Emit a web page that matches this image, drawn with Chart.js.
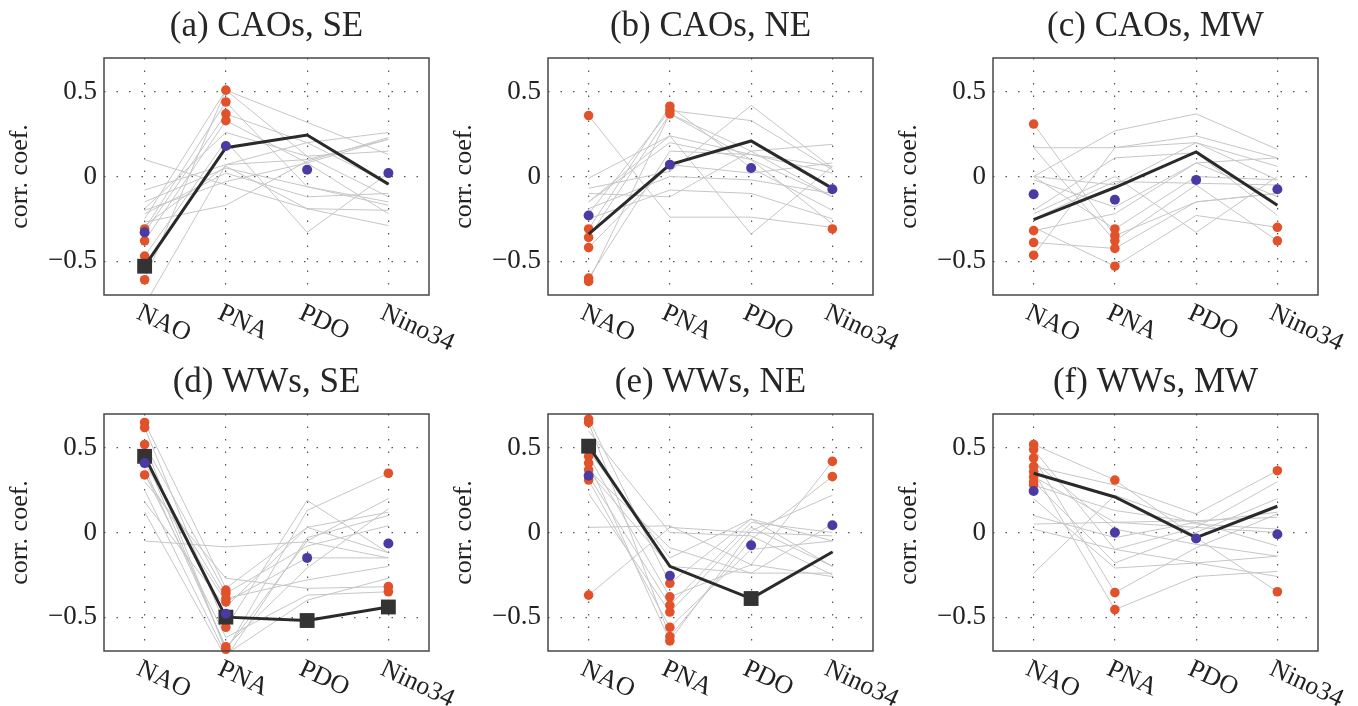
<!DOCTYPE html>
<html lang="en">
<head>
    <meta charset="UTF-8">
    <title>Correlation with climate indices</title>
    <script src="https://cdn.jsdelivr.net/npm/chart.js@4.4.1/dist/chart.umd.min.js"></script>
    <style>
        body { margin: 0; background: #fff; width: 1358px; height: 706px; position: relative; overflow: hidden; }
        canvas { position: absolute; }
    </style>
</head>
<body>
    <canvas id="pa" width="474" height="350" style="left:0;top:0"></canvas>
    <canvas id="pb" width="474" height="350" style="left:444px;top:0"></canvas>
    <canvas id="pc" width="474" height="350" style="left:889px;top:0"></canvas>
    <canvas id="pd" width="474" height="350" style="left:0;top:356px"></canvas>
    <canvas id="pe" width="474" height="350" style="left:444px;top:356px"></canvas>
    <canvas id="pf" width="474" height="350" style="left:889px;top:356px"></canvas>

    <script>
        const cats = ['NAO', 'PNA', 'PDO', 'Nino34'];
        const yTicks = [-0.5, 0, 0.5];
        const titles = ['(a) CAOs, SE', '(b) CAOs, NE', '(c) CAOs, MW',
                        '(d) WWs, SE', '(e) WWs, NE', '(f) WWs, MW'];

        // (a) CAOs, SE  -- one row per model: NAO, PNA, PDO, Nino34
        const modelsA = [
            [0.10, -0.05, -0.19, -0.29],
            [-0.08, 0.07, 0.10, 0.22],
            [-0.15, 0.05, -0.06, -0.15],
            [-0.19, 0.26, 0.12, 0.15],
            [-0.22, 0.02, -0.12, -0.10],
            [-0.25, 0.51, 0.32, 0.13],
            [-0.27, -0.17, 0.09, 0.23],
            [-0.31, 0.44, -0.06, -0.17],
            [-0.33, 0.37, 0.20, 0.26],
            [-0.38, 0.33, 0.08, -0.22],
            [-0.47, 0.21, -0.33, 0.02],
            [-0.61, 0.51, 0.12, -0.12],
            [-0.76, 0.07, 0.20, -0.04],
            [-0.20, -0.03, 0.08, 0.22],
            [-0.29, 0.06, -0.19, -0.20]
        ];
        const redA = [[-0.31, -0.38, -0.47, -0.61], [0.51, 0.44, 0.37, 0.33], [], []];
        const obsA = [-0.33, 0.18, 0.04, 0.02];
        const meanA = [-0.53, 0.17, 0.245, -0.045];
        const sigA = [1, 0, 0, 0];

        // (b) CAOs, NE
        const modelsB = [
            [0.36, -0.24, -0.24, -0.30],
            [-0.01, 0.24, 0.13, 0.02],
            [-0.07, 0.03, 0.42, 0.05],
            [-0.10, -0.12, 0.15, 0.19],
            [-0.15, 0.20, 0.10, -0.12],
            [-0.19, 0.00, -0.02, -0.10],
            [-0.22, 0.39, 0.33, 0.04],
            [-0.25, -0.08, -0.10, -0.25],
            [-0.31, 0.415, 0.05, -0.20],
            [-0.36, 0.37, 0.10, -0.28],
            [-0.42, 0.07, 0.02, 0.08],
            [-0.60, 0.15, 0.13, 0.06],
            [-0.62, 0.37, 0.15, -0.12],
            [-0.15, 0.24, -0.34, 0.06]
        ];
        const redB = [[0.36, -0.31, -0.36, -0.42, -0.60, -0.62], [0.415, 0.39, 0.37], [], [-0.31]];
        const obsB = [-0.23, 0.07, 0.05, -0.075];
        const meanB = [-0.34, 0.07, 0.21, -0.07];
        const sigB = [0, 0, 0, 0];

        // (c) CAOs, MW
        const modelsC = [
            [0.31, -0.35, -0.15, -0.10],
            [0.17, 0.17, 0.24, 0.11],
            [0.17, -0.38, -0.05, -0.38],
            [0.00, 0.27, 0.37, 0.16],
            [0.00, -0.05, 0.20, 0.06],
            [0.00, -0.31, 0.00, -0.02],
            [-0.02, -0.18, 0.08, -0.12],
            [-0.20, 0.11, 0.14, -0.23],
            [-0.22, 0.00, -0.33, 0.00],
            [-0.30, -0.53, -0.23, -0.30],
            [-0.32, -0.22, 0.08, 0.11],
            [-0.39, -0.425, -0.15, -0.10],
            [-0.465, 0.17, 0.20, -0.02],
            [-0.25, -0.03, -0.04, -0.05]
        ];
        const redC = [[0.31, -0.32, -0.39, -0.465], [-0.31, -0.35, -0.38, -0.425, -0.53], [], [-0.30, -0.38]];
        const obsC = [-0.105, -0.137, -0.02, -0.075];
        const meanC = [-0.255, -0.065, 0.145, -0.17];
        const sigC = [0, 0, 0, 0];

        // (d) WWs, SE
        const modelsD = [
            [0.65, -0.33, 0.03, 0.12],
            [0.62, -0.56, 0.19, -0.12],
            [0.52, -0.36, -0.08, 0.04],
            [0.52, -0.70, 0.13, 0.35],
            [0.45, -0.69, -0.05, 0.20],
            [0.41, -0.39, -0.28, -0.20],
            [0.38, -0.675, -0.21, 0.14],
            [0.34, -0.41, -0.15, -0.15],
            [0.30, -0.27, -0.33, -0.32],
            [0.25, -0.72, -0.40, -0.27],
            [0.18, -0.44, 0.03, -0.12],
            [0.12, -0.74, -0.03, 0.10],
            [-0.05, -0.085, -0.055, -0.15],
            [0.35, -0.62, -0.37, -0.35]
        ];
        const redD = [[0.65, 0.62, 0.52, 0.34], [-0.34, -0.36, -0.39, -0.41, -0.56, -0.675, -0.69], [], [0.35, -0.32, -0.35]];
        const obsD = [0.41, -0.48, -0.15, -0.065];
        const meanD = [0.45, -0.50, -0.52, -0.44];
        const sigD = [1, 1, 1, 1];

        // (e) WWs, NE
        const modelsE = [
            [0.67, -0.30, 0.08, -0.20],
            [0.65, -0.615, -0.04, 0.33],
            [0.45, -0.38, -0.19, 0.42],
            [0.41, -0.64, 0.01, 0.22],
            [0.37, -0.09, -0.24, -0.24],
            [0.335, -0.43, 0.06, 0.00],
            [0.31, -0.56, -0.10, -0.05],
            [0.23, -0.47, 0.03, -0.20],
            [0.03, 0.04, -0.19, -0.26],
            [-0.37, 0.03, 0.00, -0.02],
            [0.48, -0.15, 0.08, -0.05],
            [0.36, -0.20, -0.24, 0.05],
            [0.60, 0.00, -0.02, -0.25]
        ];
        const redE = [[0.67, 0.65, 0.45, 0.41, 0.37, 0.31, -0.37], [-0.30, -0.38, -0.43, -0.47, -0.56, -0.615, -0.64], [], [0.42, 0.33]];
        const obsE = [0.335, -0.255, -0.075, 0.043];
        const meanE = [0.51, -0.20, -0.39, -0.115];
        const sigE = [1, 0, 1, 0];

        // (f) WWs, MW
        const modelsF = [
            [0.52, 0.31, -0.03, -0.35],
            [0.49, -0.10, -0.18, -0.26],
            [0.44, -0.355, -0.09, 0.11],
            [0.39, 0.28, 0.11, 0.365],
            [0.36, -0.455, -0.26, -0.23],
            [0.33, 0.06, 0.03, 0.30],
            [0.30, -0.18, 0.00, 0.20],
            [0.28, 0.13, 0.06, -0.08],
            [0.20, -0.21, -0.18, -0.14],
            [0.10, -0.03, 0.06, 0.12],
            [0.05, 0.06, 0.07, 0.09],
            [0.02, -0.10, 0.03, 0.00],
            [-0.24, 0.22, 0.05, 0.02],
            [0.42, 0.02, -0.07, -0.14]
        ];
        const redF = [[0.52, 0.49, 0.44, 0.39, 0.36, 0.33, 0.30, 0.28], [0.31, -0.355, -0.455], [], [0.365, -0.35]];
        const obsF = [0.245, 0.0, -0.035, -0.01];
        const meanF = [0.35, 0.21, -0.03, 0.155];
        const sigF = [0, 0, 0, 0];

        const panels = [
            { id: 'pa', models: modelsA, red: redA, obs: obsA, mean: meanA, sig: sigA },
            { id: 'pb', models: modelsB, red: redB, obs: obsB, mean: meanB, sig: sigB },
            { id: 'pc', models: modelsC, red: redC, obs: obsC, mean: meanC, sig: sigC },
            { id: 'pd', models: modelsD, red: redD, obs: obsD, mean: meanD, sig: sigD },
            { id: 'pe', models: modelsE, red: redE, obs: obsE, mean: meanE, sig: sigE },
            { id: 'pf', models: modelsF, red: redF, obs: obsF, mean: meanF, sig: sigF }
        ];

        const serif = "'Liberation Serif', 'Times New Roman', serif";
        const RED = '#e1522b';
        const BLUE = '#4b3aa4';

        // box round the plot and the slanted category labels
        const frame = {
            id: 'frame',
            afterDraw(chart) {
                const { ctx, chartArea: a, scales: { x } } = chart;
                ctx.save();
                ctx.strokeStyle = '#474747';
                ctx.lineWidth = 1.5;
                ctx.strokeRect(a.left, a.top, a.right - a.left, a.bottom - a.top);
                ctx.fillStyle = '#222';
                ctx.font = '26px ' + serif;
                ctx.textAlign = 'left';
                ctx.textBaseline = 'top';
                x.ticks.forEach((t, i) => {
                    ctx.save();
                    ctx.translate(x.getPixelForTick(i) - 1, a.bottom + 5);
                    ctx.rotate(25 * Math.PI / 180);
                    ctx.fillText(x.getLabelForValue(t.value), 0, 0);
                    ctx.restore();
                });
                ctx.restore();
            }
        };

        function makeChart(p, title) {
            const datasets = p.models.map(m => ({
                data: m, borderColor: '#c6c6c6', borderWidth: 1, pointRadius: 0, order: 5
            }));
            datasets.push({
                data: p.red.flatMap((vals, i) => vals.map(v => ({ x: cats[i], y: v }))),
                showLine: false, pointRadius: 4.8, pointBorderWidth: 0,
                pointBackgroundColor: RED, clip: false, order: 4
            });
            datasets.push({
                data: p.mean, borderColor: '#2a2a2a', borderWidth: 3, pointRadius: 0, order: 3
            });
            datasets.push({
                data: p.mean.map((v, i) => p.sig[i] ? v : null),
                showLine: false, pointStyle: 'rect', pointRadius: 10.5, pointBorderWidth: 0,
                pointBackgroundColor: '#333', clip: false, order: 2
            });
            datasets.push({
                data: p.obs, showLine: false, pointRadius: 5, pointBorderWidth: 0,
                pointBackgroundColor: BLUE, clip: false, order: 1
            });

            return new Chart(document.getElementById(p.id), {
                type: 'line',
                data: { labels: cats, datasets: datasets },
                plugins: [frame],
                options: {
                    responsive: false,
                    devicePixelRatio: 1,
                    animation: false,
                    events: [],
                    elements: { line: { tension: 0 } },
                    layout: { padding: { left: 0, right: 45, top: 0, bottom: 0 } },
                    scales: {
                        x: {
                            type: 'category',
                            offset: true,
                            grid: { offset: false, color: '#555', lineWidth: 1.2, drawTicks: false },
                            border: { display: false, dash: [1.5, 11] },
                            ticks: { display: false },
                            afterFit: s => { s.height = 55; }
                        },
                        y: {
                            min: -0.7,
                            max: 0.7,
                            afterBuildTicks: s => { s.ticks = yTicks.map(v => ({ value: v })); },
                            afterFit: s => { s.width = 104; },
                            grid: { color: '#555', lineWidth: 1.2, drawTicks: false },
                            border: { display: false, dash: [1.5, 11] },
                            ticks: {
                                padding: 7,
                                color: '#222',
                                font: { family: serif, size: 27 },
                                callback: v => v < 0 ? '\u2212' + Math.abs(v) : String(v)
                            },
                            title: {
                                display: true,
                                text: 'corr. coef.',
                                color: '#222',
                                font: { family: serif, size: 26 },
                                padding: { top: 5, bottom: 0 }
                            }
                        }
                    },
                    plugins: {
                        legend: { display: false },
                        tooltip: { enabled: false },
                        title: {
                            display: true,
                            text: title,
                            fullSize: false,
                            color: '#262626',
                            font: { family: serif, size: 35, weight: 'normal' },
                            padding: { top: 6, bottom: 10 }
                        }
                    }
                }
            });
        }

        panels.forEach((p, i) => makeChart(p, titles[i]));
    </script>
</body>
</html>
